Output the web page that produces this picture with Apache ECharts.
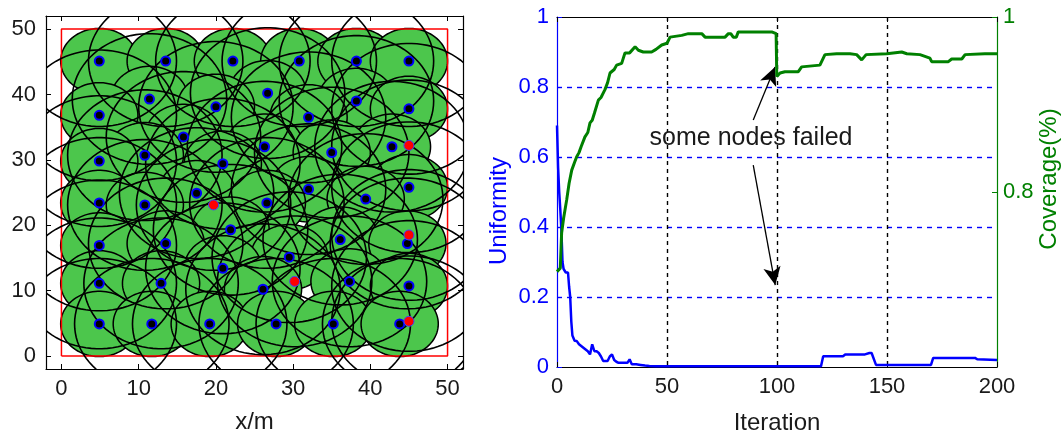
<!DOCTYPE html>
<html>
<head>
<meta charset="utf-8">
<script src="https://cdn.jsdelivr.net/npm/echarts@6/dist/echarts.min.js"></script>
<style>
html,body{margin:0;padding:0;background:#fff;}
#chart{width:1063px;height:440px;}
</style>
</head>
<body>
<div id="chart"></div>
<script>
// ---------------- data ----------------
// Left panel: node positions (m)
const activeNodesX = [4.9,13.5,22.2,30.8,38.2,45.0,26.7,11.4,38.2,20.0,45.0,4.9,32.0,15.8,26.3,42.8,35.0,10.8,4.9,20.9,17.5,32.0,45.0,39.4,26.6,4.9,10.8,21.9,36.1,44.8,4.9,13.5,29.5,20.9,37.3,4.9,12.9,45.0,26.1,4.9,11.7,19.2,27.8,35.2,43.8];
const activeNodesY = [45.1,45.1,45.1,45.1,45.1,45.1,40.2,39.3,39.0,38.1,37.8,36.8,36.5,33.5,32.0,32.0,31.1,30.7,29.8,29.4,24.9,25.5,25.8,24.0,23.4,23.4,23.1,19.3,17.8,17.2,16.9,17.2,15.1,13.4,11.4,11.1,11.1,10.7,10.2,4.9,4.9,4.9,4.9,4.9,4.9];
const failedNodesX = [45.0,19.7,45.0,30.2,45.0];
const failedNodesY = [32.2,23.1,18.5,11.4,5.3];
const sensingRadius = 5;
const commRadius = 10;
const regionBounds = [0, 50];
const fieldTicks = [0,10,20,30,40,50];

// Right panel
const uniformityIter = [0,0.5,1,1.5,2,2.5,3,4,5,5.5,6,6.5,7,8,9,10,11,12,13,14,15,16,17,18,19,20,21,22,23,24,25,26,27,28,30,32,33,34,36,38,40,42,45,120,121,130,131,140,142,143,145,170,171,190,191,200];
const uniformityVals = [0.69,0.57,0.5,0.45,0.39,0.30,0.28,0.27,0.27,0.23,0.2,0.13,0.09,0.075,0.074,0.065,0.06,0.055,0.05,0.045,0.036,0.065,0.045,0.045,0.04,0.03,0.017,0.017,0.017,0.03,0.036,0.02,0.015,0.012,0.012,0.012,0.022,0.008,0.008,0.006,0.004,0.003,0.002,0.002,0.031,0.031,0.036,0.036,0.04,0.04,0.006,0.006,0.026,0.026,0.022,0.02];
const coverageIter = [0,1.5,2.1,3,4.4,5.5,6.7,8,8.9,10,11,12.7,14,15,16,17,18.8,20,21.8,23,24.1,25,26,27.1,28,29.4,30.9,33,35.5,37,39.2,43,45,47.6,50,51.4,56.7,59.7,65.8,67.3,76.4,77.9,79,80.1,81.5,82.4,97.6,98.5,99.6,99.9,101.4,103.6,109.7,111.2,119.5,121.8,127.1,133.2,136.2,138.5,140.5,149.9,156.7,159,165,169.5,170.3,177.9,179.4,184,185.5,194.5,200];
const coverageVals = [0.709,0.713,0.753,0.77,0.791,0.81,0.825,0.834,0.84,0.845,0.852,0.863,0.868,0.879,0.882,0.89,0.905,0.908,0.917,0.925,0.936,0.934,0.94,0.945,0.943,0.947,0.959,0.959,0.966,0.962,0.960,0.960,0.963,0.968,0.970,0.977,0.979,0.981,0.981,0.977,0.977,0.981,0.981,0.977,0.977,0.983,0.983,0.981,0.981,0.932,0.936,0.9375,0.9375,0.943,0.945,0.957,0.958,0.958,0.957,0.951,0.957,0.958,0.960,0.958,0.957,0.953,0.949,0.949,0.952,0.952,0.957,0.958,0.958];
const failArrows = [[[89.2,0.706],[99.1,0.857]], [[89.2,0.577],[99.2,0.234]]];
const failNote = {text:'some nodes failed', at:[88.2,0.655]};

// ---------------- helpers ----------------
const FONT = 'Liberation Sans';
function pairs(xs, ys){ return xs.map((x,i)=>[x, ys[i]]); }
function circleItem(radius, style){
  return function(params, api){
    const cx = api.value(0), cy = api.value(1);
    const pts = [];
    const n = 90;
    for (let k = 0; k < n; k++){
      const t = 2*Math.PI*k/n;
      pts.push(api.coord([cx + radius*Math.cos(t), cy + radius*Math.sin(t)]));
    }
    return {type:'polygon', shape:{points:pts}, style: Object.assign({}, style)};
  };
}
const allNodes = pairs(activeNodesX, activeNodesY).concat(pairs(failedNodesX, failedNodesY));
const rect = [[regionBounds[0],regionBounds[0]],[regionBounds[1],regionBounds[0]],[regionBounds[1],regionBounds[1]],[regionBounds[0],regionBounds[1]],[regionBounds[0],regionBounds[0]]];

const blackAxis = {onZero:false, lineStyle:{color:'#000', width:1.2}};
const tickIn = {inside:true, length:5, lineStyle:{color:'#000'}};

const chart = echarts.init(document.getElementById('chart'), null, {renderer:'canvas'});
const option = {
  animation:false,
  textStyle:{fontFamily:FONT},
  grid:[
    {left:46, top:16, width:417, height:353},
    {left:557, top:17, width:440, height:350}
  ],
  xAxis:[
    {gridIndex:0, type:'value', min:-2, max:52, position:'bottom',
     axisLine:blackAxis, axisTick:Object.assign({customValues:fieldTicks}, tickIn),
     axisLabel:{customValues:fieldTicks, color:'#1a1a1a', fontSize:22, margin:9, fontFamily:FONT},
     splitLine:{show:false},
     name:'x/m', nameLocation:'middle', nameGap:41, nameTextStyle:{color:'#1a1a1a', fontSize:24, fontFamily:FONT}},
    {gridIndex:0, type:'value', min:-2, max:52, position:'top',
     axisLine:blackAxis, axisTick:Object.assign({customValues:fieldTicks}, tickIn),
     axisLabel:{show:false}, splitLine:{show:false}},
    {gridIndex:1, type:'value', min:0, max:200, interval:50, position:'bottom',
     axisLine:blackAxis, axisTick:tickIn,
     axisLabel:{color:'#1a1a1a', fontSize:22, margin:9, fontFamily:FONT},
     splitLine:{show:true, showMinLine:false, showMaxLine:false, lineStyle:{color:'#000', type:[4,4], width:1.4}},
     name:'Iteration', nameLocation:'middle', nameGap:44, nameTextStyle:{color:'#1a1a1a', fontSize:24, fontFamily:FONT}},
    {gridIndex:1, type:'value', min:0, max:200, interval:50, position:'top',
     axisLine:blackAxis, axisTick:tickIn, axisLabel:{show:false}, splitLine:{show:false}}
  ],
  yAxis:[
    {gridIndex:0, type:'value', min:-2, max:52, position:'left',
     axisLine:blackAxis, axisTick:Object.assign({customValues:fieldTicks}, tickIn),
     axisLabel:{customValues:fieldTicks, color:'#1a1a1a', fontSize:22, margin:10, fontFamily:FONT},
     splitLine:{show:false}},
    {gridIndex:0, type:'value', min:-2, max:52, position:'right',
     axisLine:blackAxis, axisTick:Object.assign({customValues:fieldTicks}, tickIn),
     axisLabel:{show:false}, splitLine:{show:false}},
    {gridIndex:1, type:'value', min:0, max:1, interval:0.2, position:'left',
     axisLine:{onZero:false, lineStyle:{color:'#0000ff', width:1.2}}, axisTick:{inside:true, length:5, lineStyle:{color:'#0000ff'}},
     axisLabel:{color:'#0000ff', fontSize:22, margin:8, fontFamily:FONT},
     splitLine:{show:true, showMinLine:false, showMaxLine:false, lineStyle:{color:'#0000ff', type:[5,5], width:1.4}},
     name:'Uniformity', nameLocation:'middle', nameGap:46,
     nameTextStyle:{color:'#0000ff', fontSize:24, fontFamily:FONT, padding:[0,38,0,0]}},
    {gridIndex:1, type:'value', min:0.6, max:1, interval:0.2, position:'right',
     axisLine:{onZero:false, lineStyle:{color:'#008000', width:1.2}}, axisTick:{inside:true, length:5, lineStyle:{color:'#008000'}},
     axisLabel:{color:'#008000', fontSize:22, margin:6, fontFamily:FONT, showMinLabel:false},
     splitLine:{show:false},
     name:'Coverage(%)', nameLocation:'middle', nameGap:40,
     nameTextStyle:{color:'#008000', fontSize:24, fontFamily:FONT, padding:[0,0,0,26]}}
  ],
  series:[
    {type:'custom', xAxisIndex:0, yAxisIndex:0, clip:true, z:2,
     renderItem:circleItem(sensingRadius, {fill:'#4cc64c', stroke:'#000', lineWidth:1.5}),
     encode:{x:0, y:1}, data:pairs(activeNodesX, activeNodesY)},
    {type:'line', xAxisIndex:0, yAxisIndex:0, data:rect, symbol:'none', z:3,
     lineStyle:{color:'#ff0000', width:1.5}},
    {type:'custom', xAxisIndex:0, yAxisIndex:0, clip:true, z:4,
     renderItem:circleItem(commRadius, {fill:'none', stroke:'#000', lineWidth:1.6}),
     encode:{x:0, y:1}, data:allNodes},
    {type:'scatter', xAxisIndex:0, yAxisIndex:0, z:5, symbolSize:9,
     itemStyle:{color:'#000', borderColor:'#0000ff', borderWidth:2, opacity:1},
     data:pairs(activeNodesX, activeNodesY)},
    {type:'scatter', xAxisIndex:0, yAxisIndex:0, z:6, symbolSize:10,
     itemStyle:{color:'#ff0000', borderColor:'#4040ff', borderWidth:1, opacity:1},
     data:pairs(failedNodesX, failedNodesY)},
    {type:'line', name:'Uniformity', xAxisIndex:2, yAxisIndex:2, symbol:'none', z:5,
     lineStyle:{color:'#0000ff', width:2.5},
     data:pairs(uniformityIter, uniformityVals),
     markLine:{silent:true, symbol:['none','arrow'], symbolSize:[13,18], animation:false,
       label:{show:false},
       lineStyle:{color:'#000', width:1.3, type:'solid'},
       data:failArrows.map(a=>[{coord:a[0]},{coord:a[1]}])},
     markPoint:{silent:true, symbol:'circle', symbolSize:0, animation:false,
       label:{show:true, position:'inside', formatter:failNote.text, color:'#1a1a1a', fontSize:25, fontFamily:FONT},
       data:[{coord:failNote.at}]}},
    {type:'line', name:'Coverage', xAxisIndex:2, yAxisIndex:3, symbol:'none', z:6,
     lineStyle:{color:'#008000', width:3},
     data:pairs(coverageIter, coverageVals)}
  ]
};
chart.setOption(option);
</script>
</body>
</html>
